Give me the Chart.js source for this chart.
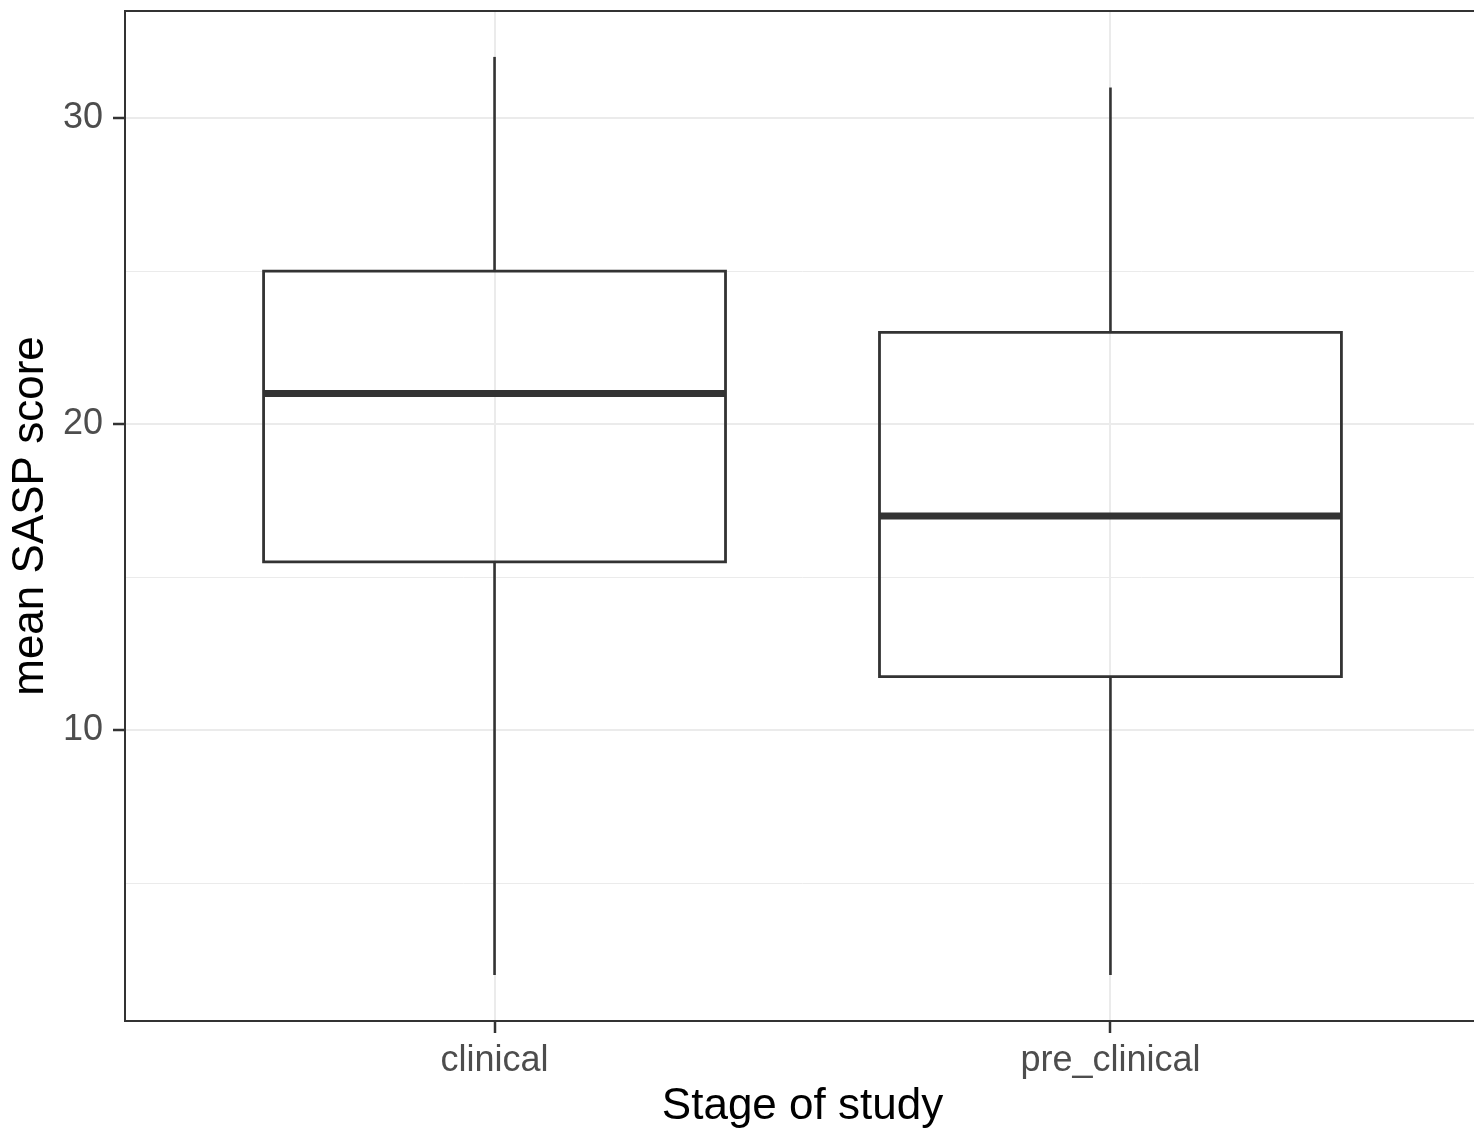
<!DOCTYPE html>
<html>
<head>
<meta charset="utf-8">
<script src="https://cdn.jsdelivr.net/npm/chart.js@4/dist/chart.umd.min.js"></script>
<style>
  html, body { margin: 0; padding: 0; background: #fff; overflow: hidden; }
  #wrap { width: 1474px; height: 1134px; overflow: hidden; position: relative; }
  canvas { display: block; }
</style>
</head>
<body>
<div id="wrap"><canvas id="c" width="1490" height="1134"></canvas></div>
<script>
// ---- data ----
const categories   = ['clinical', 'pre_clinical'];
const whiskerLow   = [2, 2];
const q1           = [15.5, 11.75];
const median       = [21, 17];
const q3           = [25, 23];
const whiskerHigh  = [32, 31];
const yMajorTicks  = [10, 20, 30];
const yMinorTicks  = [5, 15, 25];
const xLabel = 'Stage of study';
const yLabel = 'mean SASP score';

// ---- style ----
const INK = '#333333';
const GRID = '#EBEBEB';
const TICKTXT = '#4D4D4D';
const FONT = 'Arial, "Liberation Sans", sans-serif';
const HALF = 0.375; // half box width (0.75 of category spacing)

const datasets = [];
categories.forEach((cat, i) => {
  const x = i + 1;
  // whiskers
  datasets.push({ data: [{x, y: q3[i]}, {x, y: whiskerHigh[i]}], borderColor: INK, borderWidth: 2.6 });
  datasets.push({ data: [{x, y: whiskerLow[i]}, {x, y: q1[i]}], borderColor: INK, borderWidth: 2.6 });
  // box
  datasets.push({
    data: [{x: x - HALF, y: q1[i]}, {x: x + HALF, y: q1[i]}, {x: x + HALF, y: q3[i]},
           {x: x - HALF, y: q3[i]}, {x: x - HALF, y: q1[i]}],
    borderColor: INK, borderWidth: 2.8, backgroundColor: '#ffffff', fill: false,
    borderJoinStyle: 'miter', borderCapStyle: 'square'
  });
  // median
  datasets.push({ data: [{x: x - HALF, y: median[i]}, {x: x + HALF, y: median[i]}],
    borderColor: INK, borderWidth: 7, borderCapStyle: 'butt' });
});
datasets.forEach(d => { d.showLine = true; d.pointRadius = 0; d.pointHoverRadius = 0; d.tension = 0; });

const panelBorder = {
  id: 'panelBorder',
  afterDraw(chart) {
    const {ctx, chartArea: a} = chart;
    ctx.save();
    ctx.strokeStyle = INK;
    ctx.lineWidth = 2;
    ctx.strokeRect(a.left, a.top, a.right - a.left, a.bottom - a.top);
    ctx.restore();
  }
};

new Chart(document.getElementById('c'), {
  type: 'scatter',
  data: { datasets },
  options: {
    responsive: false,
    animation: false,
    events: [],
    layout: { padding: { top: 11, right: 10, bottom: 0, left: 0 } },
    plugins: { legend: { display: false }, tooltip: { enabled: false } },
    scales: {
      x: {
        type: 'linear', min: 0.4, max: 2.6,
        afterBuildTicks: s => { s.ticks = categories.map((c, i) => ({ value: i + 1 })); },
        afterFit: s => { s.height = 113; s.paddingLeft = 0; s.paddingRight = 0; },
        ticks: {
          callback: v => categories[Math.round(v) - 1] || '',
          color: TICKTXT, font: { family: FONT, size: 36 }, padding: 6, maxRotation: 0, autoSkip: false
        },
        grid: { color: GRID, lineWidth: 2, tickLength: 12, tickColor: INK, tickWidth: 2.5 },
        border: { display: false },
        title: { display: true, text: xLabel, color: '#000000',
                 font: { family: FONT, size: 44, lineHeight: 1.2 }, padding: { top: 0, bottom: 1 } }
      },
      y: {
        type: 'linear', min: 0.5, max: 33.5,
        afterBuildTicks: s => {
          s.ticks = [...yMinorTicks, ...yMajorTicks].sort((a, b) => a - b).map(v => ({ value: v }));
        },
        afterFit: s => { s.width = 125; s.paddingTop = 0; s.paddingBottom = 0; },
        ticks: {
          callback: v => yMajorTicks.includes(v) ? String(v) : '',
          color: TICKTXT, font: { family: FONT, size: 36 }, padding: 10, autoSkip: false
        },
        grid: {
          color: GRID,
          lineWidth: c => yMajorTicks.includes(c.tick && c.tick.value) ? 2 : 1,
          tickLength: 12,
          tickColor: c => yMajorTicks.includes(c.tick && c.tick.value) ? INK : 'rgba(0,0,0,0)',
          tickWidth: 2.5
        },
        border: { display: false },
        title: { display: true, text: yLabel, color: '#000000',
                 font: { family: FONT, size: 44, lineHeight: 1.2 }, padding: { top: 4, bottom: 0 } }
      }
    }
  },
  plugins: [panelBorder]
});
</script>
</body>
</html>
